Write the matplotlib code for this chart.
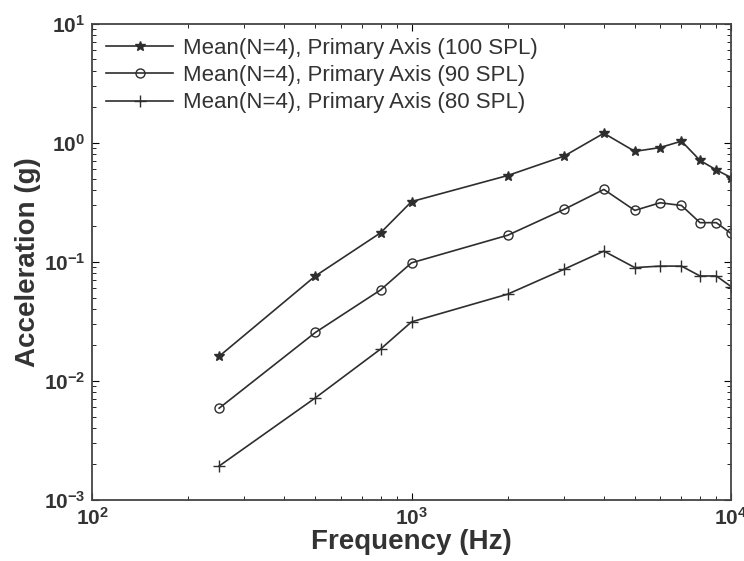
import matplotlib
matplotlib.use("Agg")
import matplotlib.pyplot as plt

freq = [250, 500, 800, 1000, 2000, 3000, 4000, 5000, 6000, 7000, 8000, 9000, 10000]
acc_100 = [0.0161, 0.076, 0.175, 0.32, 0.53, 0.77, 1.20, 0.845, 0.91, 1.03, 0.71, 0.59, 0.51]
acc_90 = [0.0059, 0.0255, 0.058, 0.098, 0.167, 0.275, 0.405, 0.27, 0.313, 0.297, 0.213, 0.213, 0.173]
acc_80 = [0.00193, 0.0072, 0.0185, 0.0313, 0.0535, 0.0865, 0.123, 0.0894, 0.092, 0.092, 0.076, 0.076, 0.062]

labels = [
    "Mean(N=4), Primary Axis (100 SPL)",
    "Mean(N=4), Primary Axis (90 SPL)",
    "Mean(N=4), Primary Axis (80 SPL)",
]

plt.rcParams['font.family'] = ['Liberation Sans', 'DejaVu Sans']

fig = plt.figure(figsize=(7.44, 5.61), dpi=100)
ax = fig.add_axes([0.1237, 0.1087, 0.8588, 0.8493])

c = '#2e2e2e'
line_kw = dict(color=c, linewidth=1.2)
ax.plot(freq, acc_100, marker='*', markersize=7.5, markerfacecolor=c,
        markeredgecolor=c, label=labels[0], **line_kw)
ax.plot(freq, acc_90, marker='o', markersize=6.5, markerfacecolor='none',
        markeredgecolor=c, label=labels[1], **line_kw)
ax.plot(freq, acc_80, marker='+', markersize=8, markeredgecolor=c,
        label=labels[2], **line_kw)

ax.set_xscale('log')
ax.set_yscale('log')
ax.set_xlim(1e2, 1e4)
ax.set_ylim(1e-3, 1e1)

ax.tick_params(which='both', direction='in', top=True, right=True)
ax.tick_params(which='major', length=5, labelsize=15, pad=5)
ax.tick_params(which='minor', length=3)
for lab in ax.get_xticklabels() + ax.get_yticklabels():
    lab.set_fontweight('bold')
    lab.set_color('#333333')
for sp in ax.spines.values():
    sp.set_linewidth(1.3)
    sp.set_color('#444444')

ax.set_xlabel('Frequency (Hz)', fontsize=20, fontweight='bold', color='#333333', labelpad=0)
ax.set_ylabel('Acceleration (g)', fontsize=20, fontweight='bold', color='#333333', labelpad=2)

ax.legend(loc='upper left', frameon=False, fontsize=16, handlelength=3.0,
          borderaxespad=0.35, borderpad=0.3, labelspacing=0.28, handletextpad=0.45,
          labelcolor='#333333')

fig.savefig('out.png', dpi=100)
